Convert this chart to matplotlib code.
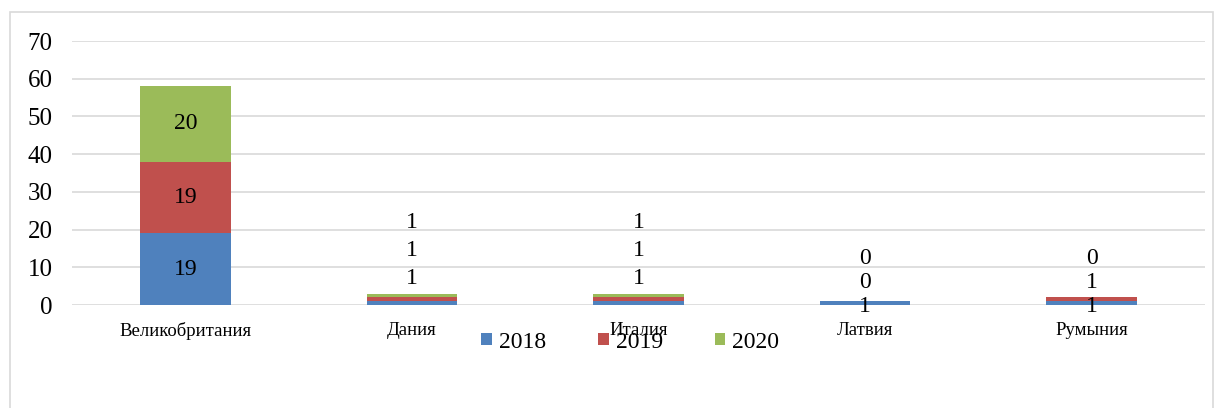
import matplotlib.pyplot as plt
import numpy as np
from matplotlib.patches import Rectangle

# data
countries = ["Великобритания", "Дания", "Италия", "Латвия", "Румыния"]
years = ["2018", "2019", "2020"]
v2018 = [19, 1, 1, 1, 1]
v2019 = [19, 1, 1, 0, 1]
v2020 = [20, 1, 1, 0, 0]
colors = ["#4F81BD", "#C0504D", "#9BBB59"]

plt.rcParams['font.family'] = ['Liberation Serif', 'DejaVu Serif']

fig = plt.figure(figsize=(12.24, 4.08), dpi=100)
# outer chart border
fig.patches.append(Rectangle((10 / 1224, -0.05), 1203 / 1224, 1.05 - 12 / 408,
                             transform=fig.transFigure, fill=False,
                             edgecolor="#d9d9d9", linewidth=1.2))
ax = fig.add_axes([72 / 1224, 1 - 305 / 408, 1133 / 1224, 264 / 408])

x = np.arange(len(countries))
series = [v2018, v2019, v2020]
bottom = np.zeros(len(countries))
bars = []
for vals, col, yr in zip(series, colors, years):
    ax.bar(x, vals, width=0.4, bottom=bottom, color=col, label=yr, zorder=3)
    bars.append((vals, bottom.copy()))
    bottom += np.array(vals)

# data labels: big bar centred, small bars get labels stacked above (pixel offsets)
small_offsets = {1: [27, 55, 83], 2: [27, 55, 83], 3: [-2, 23, 47], 4: [-2, 23, 47]}
for i in range(len(countries)):
    for k, (vals, bot) in enumerate(bars):
        if i == 0:
            ax.text(x[i], bot[i] + vals[i] / 2, str(vals[i]), ha="center",
                    va="center", fontsize=17, zorder=4)
        else:
            ax.annotate(str(vals[i]), (x[i], 0), xytext=(0, small_offsets[i][k] * 0.72),
                        textcoords="offset points", ha="center", va="center",
                        fontsize=17, zorder=4)

ax.set_xlim(-0.5, len(countries) - 0.5)
ax.set_ylim(0, 70)
ax.set_yticks(range(0, 71, 10))
ax.yaxis.grid(True, color="#d9d9d9", linewidth=1.2, zorder=0)
for s in ax.spines.values():
    s.set_visible(False)
ax.tick_params(axis="both", length=0)
ax.tick_params(axis="y", labelsize=18, pad=14)
ax.set_xticks(x)
ax.set_xticklabels(countries, fontsize=13.5)
ax.tick_params(axis="x", pad=12)

fig.legend(loc="center", bbox_to_anchor=(0.515, 1 - 342 / 408), ncol=3,
           frameon=False, fontsize=17, handlelength=0.45, handleheight=0.45,
           handletextpad=0.3, columnspacing=2.2)

fig.savefig("out.png", dpi=100)
